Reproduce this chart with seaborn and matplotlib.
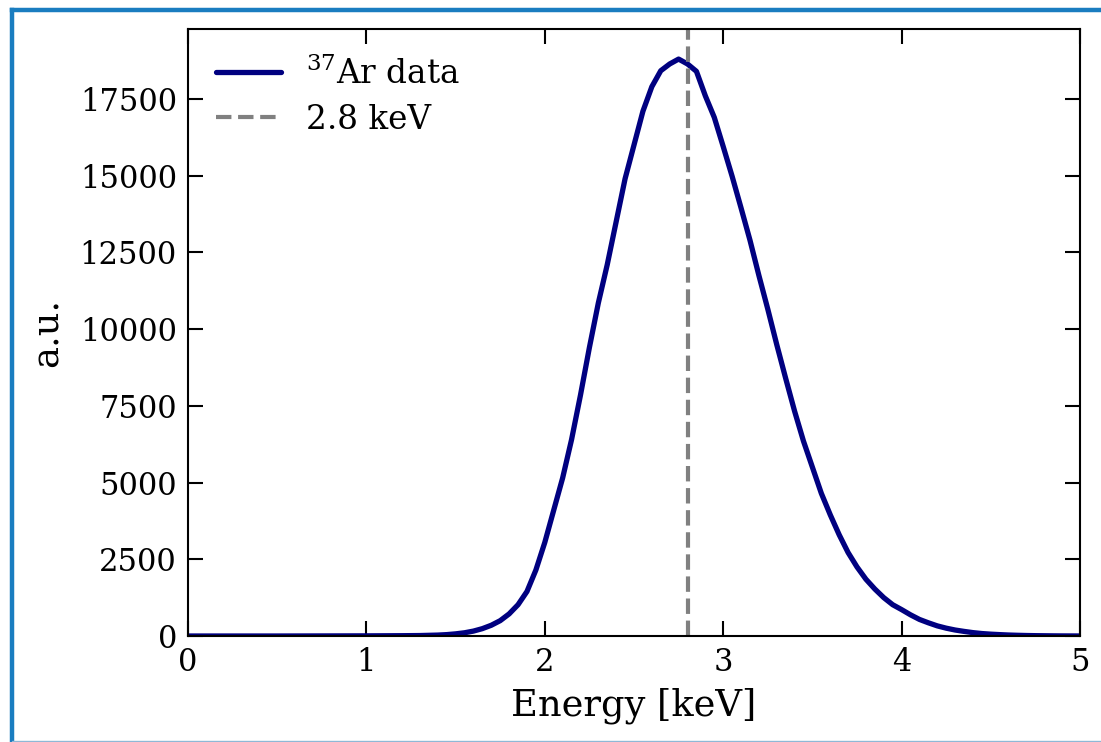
import numpy as np
import pandas as pd
import matplotlib
matplotlib.use("Agg")
import matplotlib.pyplot as plt
import seaborn as sns
from matplotlib.lines import Line2D

# ---- data ----
energy = [0.0, 0.5, 1.0, 1.2, 1.3, 1.4, 1.45, 1.5, 1.55, 1.6, 1.65, 1.7, 1.75, 1.8, 1.85,
          1.9, 1.95, 2.0, 2.05, 2.1, 2.15, 2.2, 2.25, 2.3, 2.35, 2.4, 2.45, 2.5,
          2.55, 2.6, 2.65, 2.7, 2.75, 2.8, 2.85, 2.9, 2.95, 3.0, 3.05, 3.1, 3.15,
          3.2, 3.25, 3.3, 3.35, 3.4, 3.45, 3.5, 3.55, 3.6, 3.65, 3.7, 3.75, 3.8,
          3.85, 3.9, 3.95, 4.0, 4.05, 4.1, 4.15, 4.2, 4.25, 4.3, 4.35, 4.4, 4.45,
          4.5, 4.55, 4.6, 4.65, 4.7, 4.75, 4.8, 4.85, 4.9, 4.95, 5.0]
counts = [0, 0, 5, 10, 15, 30, 45, 70, 105, 160, 240, 350, 500, 720, 1020,
          1450, 2150, 3050, 4100, 5150, 6400, 7850, 9400, 10850, 12100, 13500, 14900, 16000,
          17100, 17900, 18420, 18640, 18800, 18640, 18400, 17600, 16900, 15950, 14980, 13950, 12900,
          11750, 10650, 9500, 8400, 7330, 6350, 5500, 4650, 3950, 3300, 2720, 2250, 1850,
          1530, 1250, 1020, 860, 690, 540, 430, 330, 255, 195, 150, 110, 80,
          60, 45, 32, 23, 16, 11, 8, 5, 3, 2, 1]
marker_energy = 2.8
series_label = r"$^{37}$Ar data"
marker_label = "2.8 keV"
x_label = "Energy [keV]"
y_label = "a.u."

df = pd.DataFrame({"energy": energy, "counts": counts})

sns.set_style("ticks")
plt.rcParams["font.family"] = ["DejaVu Serif"]
plt.rcParams["mathtext.fontset"] = "dejavuserif"
plt.rcParams["text.color"] = "black"
plt.rcParams["axes.labelcolor"] = "black"
plt.rcParams["xtick.color"] = "black"
plt.rcParams["ytick.color"] = "black"

fig = plt.figure(figsize=(11.01, 7.42), dpi=100)
ax = fig.add_axes([188 / 1101, 1 - 636 / 742, (1080 - 188) / 1101, (636 - 29) / 742])

sns.lineplot(data=df, x="energy", y="counts", ax=ax, color="navy", lw=3.8,
             label=series_label)
ax.axvline(marker_energy, color="gray", ls="--", lw=3, label=marker_label)

ax.set_xlim(0, 5)
ax.set_ylim(0, 19780)
ax.set_yticks(np.arange(0, 17501, 2500))
ax.set_xticks(range(0, 6))

ax.tick_params(direction="in", length=11, width=1.5, top=True, right=True,
               labelsize=22, pad=8, colors="black")
for s in ax.spines.values():
    s.set_linewidth(1.5)
    s.set_color("black")

ax.set_xlabel(x_label, fontsize=26.5, labelpad=7, color="black")
ax.set_ylabel(y_label, fontsize=26.5, labelpad=10, color="black")

leg = ax.legend(loc="upper left", frameon=False, fontsize=23.5, handlelength=2.0,
                handletextpad=0.75, labelspacing=0.4, borderaxespad=0.3,
                borderpad=0.55)
for t in leg.get_texts():
    t.set_color("black")

# blue page frame
fig.add_artist(Line2D([11.5 / 1101, 11.5 / 1101], [0, 1 - 9.5 / 742],
                      transform=fig.transFigure, color="#1a7dc0", lw=3.2,
                      solid_capstyle="projecting"))
fig.add_artist(Line2D([11.5 / 1101, 1], [1 - 10 / 742, 1 - 10 / 742],
                      transform=fig.transFigure, color="#1a7dc0", lw=3.2,
                      solid_capstyle="projecting"))
fig.add_artist(Line2D([11.5 / 1101, 1], [0.8 / 742, 0.8 / 742],
                      transform=fig.transFigure, color="#8fb8d6", lw=1))

fig.savefig("out.png", dpi=100)
